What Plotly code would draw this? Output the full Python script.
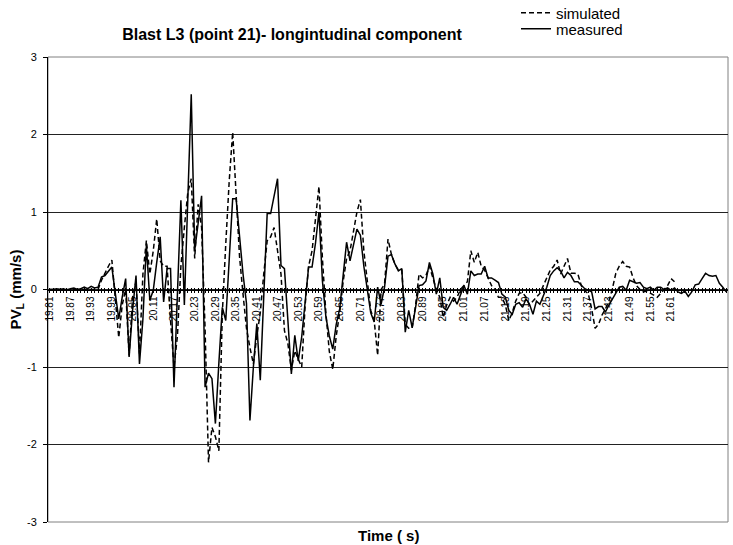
import plotly.graph_objects as go

# Measured PV_L (mm/s), one value per 0.01 s sample starting at 19.81 s
measured = [
    0.0, 0.0, 0.01, 0.0, 0.01, -0.01, 0.01, 0.02, 0.0, 0.01,
    0.03, 0.01, 0.04, 0.02, 0.03, 0.16, 0.18, 0.23, 0.29, -0.05,
    -0.38, -0.1, 0.14, -0.87, -0.27, 0.18, -0.96, -0.38, 0.57, -0.14,
    -0.01, 0.35, 0.68, -0.16, 0.27, 0.27, -1.26, -0.05, 1.15, -0.2,
    1.15, 2.52, 0.5, 0.85, 1.21, -1.26, -1.08, -1.15, -1.73, -0.95,
    -0.23, -0.4, 0.4, 1.17, 1.17, 0.65, 0.2, -0.18, -1.69, -1.0,
    -0.44, -1.17, -0.1, 0.98, 0.98, 1.2, 1.43, 0.31, 0.27, -0.4,
    -1.09, -0.59, -0.92, -0.61, -0.15, 0.29, 0.29, 0.6, 1.0, 0.11,
    -0.35, -0.6, -0.77, -0.45, -0.25, 0.2, 0.61, 0.37, 0.6, 0.78,
    0.7, 0.3, 0.0, -0.3, -0.42, 0.03, -0.19, 0.03, 0.43, 0.45,
    0.33, 0.24, 0.27, -0.55, -0.27, -0.49, -0.23, 0.05, 0.06, 0.11,
    0.35, 0.2, -0.06, 0.15, -0.23, -0.27, -0.19, -0.1, -0.19, -0.06,
    0.05, -0.06, 0.24, 0.18, 0.2, 0.2, 0.3, 0.15, 0.15, 0.12,
    0.09, -0.06, -0.1, -0.27, -0.32, -0.19, -0.17, -0.23, -0.12, -0.19,
    -0.32, -0.15, -0.19, -0.08, 0.03, 0.18, 0.24, 0.28, 0.24, 0.15,
    0.22, 0.18, 0.1, 0.1, 0.06, 0.01, -0.01, -0.03, -0.25, -0.22,
    -0.22, -0.29, -0.2, -0.12, -0.05, 0.03, 0.04, -0.01, 0.12, 0.1,
    0.08, 0.09, 0.03, 0.01, 0.03, -0.01, 0.03, 0.03, 0.0, 0.02,
    -0.01, 0.02, -0.03, -0.05, -0.02, -0.09, -0.03, 0.06, 0.07, 0.14,
    0.21, 0.18, 0.17, 0.18, 0.08, 0.03, -0.03,
]

# Simulated PV_L (mm/s), same time base, ends earlier
simulated = [
    0.0, 0.0, 0.0, 0.0, 0.0, 0.0, 0.0, 0.0, 0.0, 0.0,
    0.0, 0.0, 0.0, 0.0, 0.0, 0.12, 0.22, 0.3, 0.38, -0.1,
    -0.62, -0.2, 0.0, -0.85, -0.1, 0.1, -0.83, 0.2, 0.63, 0.2,
    0.5, 0.91, 0.37, 0.3, 0.3, -0.4, -1.0, -0.6, 0.3, 0.8,
    1.25, 1.43, 0.4, 1.1, 0.8, -0.5, -2.23, -1.78, -1.9, -2.08,
    -0.31, 0.59, 1.4, 2.03, 1.3, 0.42, -0.06, -0.5, -0.75, -0.96,
    -0.6, -0.3, 0.2, 0.63, 0.68, 0.8, 0.5, 0.2, -0.53, -0.7,
    -1.04, -0.79, -0.9, -1.0, -0.2, 0.3, 0.5, 0.9, 1.33, 0.4,
    -0.3, -0.8, -1.03, -0.6, -0.3, 0.1, 0.4, 0.5, 0.76, 1.0,
    1.16, 0.5, 0.11, -0.27, -0.4, -0.85, 0.0, 0.07, 0.65, 0.45,
    0.33, 0.25, 0.25, -0.45, -0.5, -0.5, -0.2, 0.2, 0.15, 0.18,
    0.3, 0.15, 0.0, -0.1, -0.36, -0.2, -0.1, -0.15, -0.1, 0.0,
    0.05, 0.1, 0.5, 0.35, 0.48, 0.3, 0.25, 0.15, 0.05, 0.0,
    -0.1, -0.1, -0.2, -0.4, -0.3, -0.15, -0.05, -0.04, -0.1, -0.2,
    -0.15, -0.1, -0.05, 0.05, 0.15, 0.25, 0.3, 0.38, 0.2, 0.3,
    0.4, 0.21, 0.21, 0.2, 0.05, -0.02, -0.05, -0.25, -0.5, -0.45,
    -0.33, -0.25, -0.15, 0.01, 0.21, 0.3, 0.36, 0.3, 0.29, 0.15,
    0.05, 0.0, -0.03, -0.02, -0.05, -0.07, -0.1, -0.05, 0.0, 0.05,
    0.14, 0.1,
]

# Time categories (s), 0.01 s apart
time = [round(19.81 + 0.01 * k, 2) for k in range(len(measured))]

tick_labels = [
    "19.81", "19.87", "19.93", "19.99", "20.05", "20.11", "20.17", "20.23",
    "20.29", "20.35", "20.41", "20.47", "20.53", "20.59", "20.65", "20.71",
    "20.77", "20.83", "20.89", "20.95", "21.01", "21.07", "21.13", "21.19",
    "21.25", "21.31", "21.37", "21.43", "21.49", "21.55", "21.61",
]

y_ticks = [-3, -2, -1, 0, 1, 2, 3]
y_labels = ["-3", "-2", "-1", "0", "1", "2", "3"]

tickvals = time
ticktext = [f"{t:.2f}" if f"{t:.2f}" in tick_labels else "" for t in time]

FONT = "Liberation Sans, Arial, sans-serif"
W, H = 733, 545
ML, MR, MT, MB = 48, 5, 57, 23
PH = H - MT - MB
PW = W - ML - MR

fig = go.Figure()
fig.add_trace(go.Scatter(
    x=time[:len(simulated)], y=simulated, name="simulated", mode="lines",
    line=dict(color="black", width=1.5, dash="5px,3px"), legend="legend",
))
fig.add_trace(go.Scatter(
    x=time, y=measured, name="measured", mode="lines",
    line=dict(color="black", width=1.5), legend="legend2",
))
# helper trace so the upper half of the crossing tick marks is drawn
fig.add_trace(go.Scatter(
    x=[time[0]], y=[None], xaxis="x2", showlegend=False, hoverinfo="skip",
))

xr = [time[0] - 0.005, time[-1] + 0.005]

leg_common = dict(xanchor="left", yanchor="middle", bgcolor="rgba(0,0,0,0)",
                  font=dict(size=15, family=FONT), itemwidth=30)

fig.update_layout(
    width=W, height=H,
    margin=dict(l=ML, r=MR, t=MT, b=MB, autoexpand=False),
    paper_bgcolor="white", plot_bgcolor="white",
    font=dict(family=FONT, color="black", size=10),
    title=dict(
        text="<b>Blast L3 (point 21)- longintudinal component</b>",
        font=dict(size=16, family=FONT), x=292 / W, xanchor="center",
        y=1 - 34 / H, yanchor="middle",
    ),
    showlegend=True,
    legend=dict(x=(516 - ML) / PW, y=1 + (MT - 13) / PH, **leg_common),
    legend2=dict(x=(516 - ML) / PW, y=1 + (MT - 29) / PH, **leg_common),
    xaxis=dict(
        range=xr, anchor="free", position=0.5,
        tickmode="array", tickvals=tickvals, ticktext=ticktext,
        tickangle=-90, ticks="outside", ticklen=2, tickwidth=1, tickcolor="black",
        showline=True, linecolor="black", linewidth=1,
        showgrid=False, zeroline=False,
        tickfont=dict(size=10, family=FONT),
    ),
    xaxis2=dict(
        range=xr, overlaying="x", anchor="free", position=0.5,
        tickmode="array", tickvals=tickvals, ticktext=["" for _ in time],
        ticks="inside", ticklen=2, tickwidth=1, tickcolor="black",
        showline=False, showgrid=False, zeroline=False, showticklabels=False,
    ),
    yaxis=dict(
        range=[-3, 3], tickmode="array", tickvals=y_ticks, ticktext=y_labels,
        showgrid=True, gridcolor="#222", gridwidth=1,
        showline=True, linecolor="black", linewidth=1,
        ticks="outside", ticklen=4, tickcolor="black", ticklabelstandoff=4,
        zeroline=False, tickfont=dict(size=11, family=FONT),
        title=dict(text="<b>PV<sub>L</sub> (mm/s)</b>", font=dict(size=15, family=FONT), standoff=1),
    ),
    shapes=[dict(type="rect", xref="paper", yref="paper", x0=0, x1=1, y0=0, y1=1,
                 line=dict(color="#808080", width=1), layer="below")],
    annotations=[dict(
        text="<b>Time ( s)</b>", xref="paper", yref="paper", x=(388 - ML) / PW,
        y=-(535 - (H - MB)) / PH,
        xanchor="center", yanchor="middle", showarrow=False,
        font=dict(size=15, family=FONT),
    )],
)

fig.write_html(
    "out.html",
    config={"displayModeBar": False},
    post_script="document.body.style.margin='0';document.body.style.overflow='hidden';",
)
